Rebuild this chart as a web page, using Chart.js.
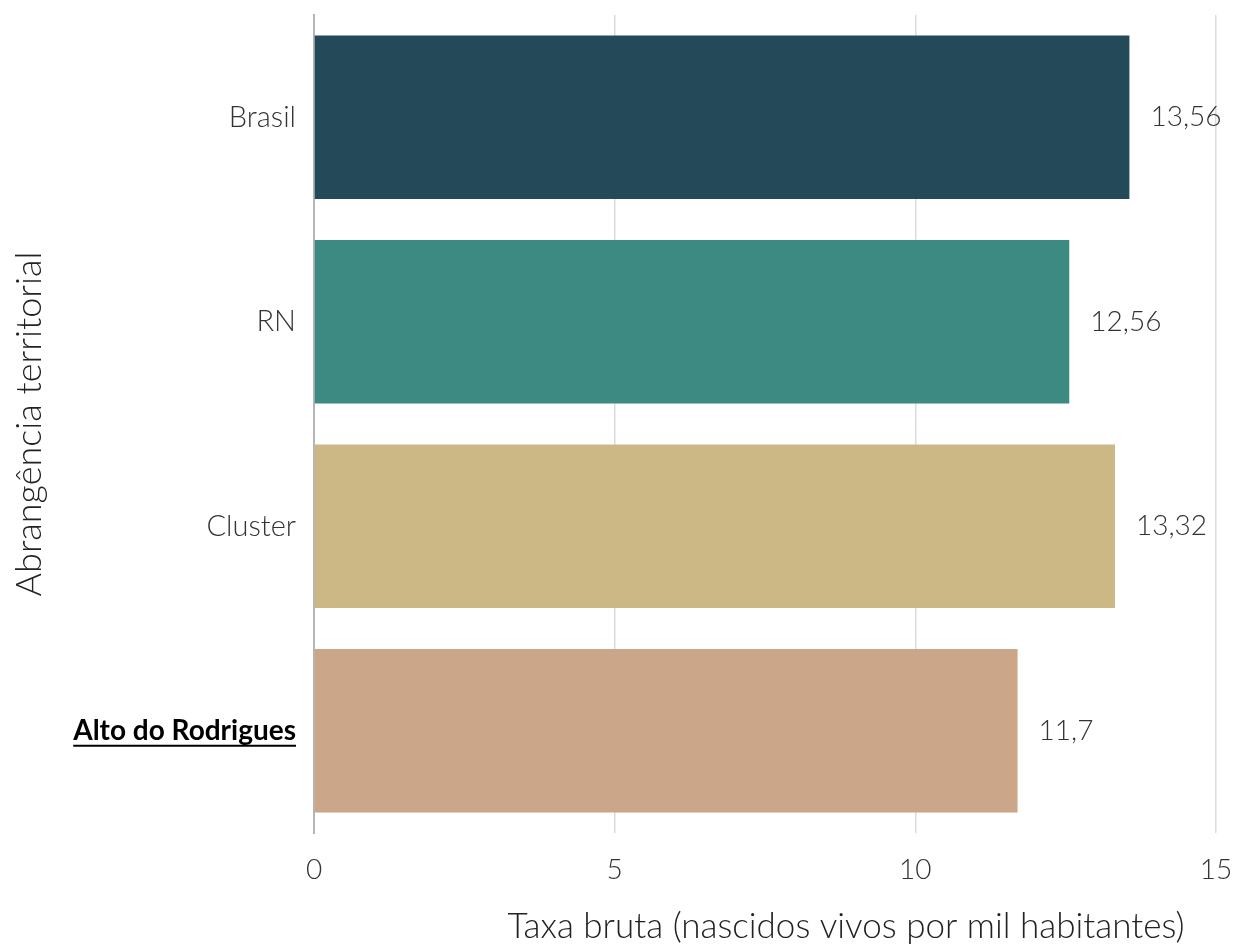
<!DOCTYPE html>
<html>
<head>
<meta charset="utf-8">
<script src="https://cdn.jsdelivr.net/npm/chart.js@4"></script>
<style>
  html, body { margin: 0; padding: 0; background: #fff; }
  #wrap { width: 1236px; height: 946px; }
</style>
</head>
<body>
<div id="wrap"><canvas id="taxaChart"></canvas></div>
<script>
// dados do gráfico
const categorias = ["Brasil", "RN", "Cluster", "Alto do Rodrigues"];
const valores = [13.56, 12.56, 13.32, 11.7];
const cores = ["#244a59", "#3c8a81", "#ccb885", "#cca689"];
const xTicks = [0, 5, 10, 15];
const destaque = "Alto do Rodrigues";

const FONTE = "Lato";
const fmt = (v) => String(v).replace(".", ",");

// rótulos de valor à direita das barras + sublinhado do destaque + título do eixo x
const extras = {
  id: "extras",
  afterDatasetsDraw(chart) {
    const ctx = chart.ctx;
    const meta = chart.getDatasetMeta(0);
    ctx.save();
    ctx.font = "300 28px " + FONTE;
    ctx.fillStyle = "#333";
    ctx.textAlign = "left";
    ctx.textBaseline = "middle";
    meta.data.forEach((bar, i) => {
      ctx.fillText(fmt(valores[i]), bar.x + 21, bar.y);
    });
    ctx.restore();
  },
  afterDraw(chart) {
    const ctx = chart.ctx;
    const y = chart.scales.y;
    const idx = categorias.indexOf(destaque);
    if (idx >= 0) {
      ctx.save();
      ctx.font = "bold 28px " + FONTE;
      const w = ctx.measureText(destaque).width;
      const right = y.right - 18;
      const py = y.getPixelForTick(idx) + 15;
      ctx.strokeStyle = "#000";
      ctx.lineWidth = 2;
      ctx.beginPath();
      ctx.moveTo(right - w, py);
      ctx.lineTo(right, py);
      ctx.stroke();
      ctx.restore();
    }
    // título do eixo x
    ctx.save();
    ctx.font = "300 35px " + FONTE;
    ctx.fillStyle = "#222";
    ctx.textAlign = "center";
    ctx.textBaseline = "middle";
    ctx.fillText("Taxa bruta (nascidos vivos por mil habitantes)", 846, 927);
    ctx.restore();
  },
};

new Chart(document.getElementById("taxaChart").getContext("2d"), {
  type: "bar",
  data: {
    labels: categorias,
    datasets: [{
      data: valores,
      backgroundColor: cores,
      borderWidth: 0,
      categoryPercentage: 0.8,
      barPercentage: 1,
    }],
  },
  options: {
    indexAxis: "y",
    responsive: true,
    maintainAspectRatio: false,
    animation: false,
    layout: { padding: { top: 15, right: 20, left: 0, bottom: 0 } },
    plugins: { legend: { display: false }, tooltip: { enabled: false } },
    scales: {
      x: {
        min: 0,
        max: 15,
        afterBuildTicks: (s) => { s.ticks = xTicks.map((v) => ({ value: v })); },
        afterFit: (s) => { s.height = 113; s.paddingLeft = 0; s.paddingRight = 0; },
        grid: { color: "#dcdcdc", lineWidth: 1.5, drawTicks: false },
        border: { display: false },
        ticks: { color: "#333", padding: 20, font: { family: FONTE, size: 28, weight: "300" } },
      },
      y: {
        afterFit: (s) => { s.width = 314; s.paddingTop = 0; s.paddingBottom = 0; },
        grid: { display: false, drawTicks: false },
        border: { display: true, color: "#b5b5b5", width: 2 },
        ticks: {
          color: (c) => (c.tick && c.tick.label === destaque ? "#000" : "#333"),
          padding: 18,
          font: (c) => {
            const bold = c.tick && c.tick.label === destaque;
            return { family: FONTE, size: bold ? 28 : 29, weight: bold ? "bold" : "300" };
          },
        },
        title: {
          display: true,
          text: "Abrangência territorial",
          color: "#222",
          padding: { top: 8, bottom: 0 },
          font: { family: FONTE, size: 36, weight: "300" },
        },
      },
    },
  },
  plugins: [extras],
});
</script>
</body>
</html>
